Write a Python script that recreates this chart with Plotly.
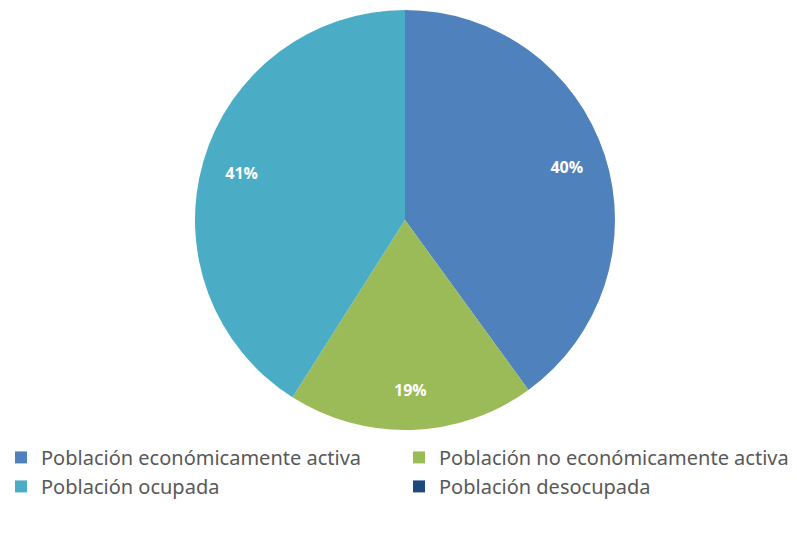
import plotly.graph_objects as go

labels = ["Población económicamente activa", "Población no económicamente activa",
          "Población ocupada", "Población desocupada"]
values = [40, 19, 41, 0]
colors = ["#4F81BD", "#9BBB59", "#4BACC6", "#1F497D"]

W, H = 797, 536
cx, cy, r = 405, 220, 210
dom = dict(x=[(cx - r) / W, (cx + r) / W], y=[(H - cy - r) / H, (H - cy + r) / H])

fig = go.Figure()
fig.add_trace(go.Pie(
    labels=labels, values=values, sort=False, direction="clockwise", rotation=0,
    marker=dict(colors=colors, line=dict(color="white", width=0)),
    textinfo="none", domain=dom, showlegend=True,
))
# label overlay: transparent ring so that the percentages sit near the rim
fig.add_trace(go.Pie(
    labels=labels, values=values, sort=False, direction="clockwise", rotation=0,
    hole=0.62,
    marker=dict(colors=["rgba(0,0,0,0)"] * len(values), line=dict(width=0)),
    texttemplate="<b>%{percent:.0%}</b>", textposition="inside",
    insidetextorientation="horizontal",
    textfont=dict(color="white", size=16, family="Open Sans"),
    domain=dom, showlegend=False, hoverinfo="skip",
))

fig.update_layout(
    width=W, height=H, margin=dict(l=0, r=0, t=0, b=0),
    paper_bgcolor="white", plot_bgcolor="white",
    legend=dict(orientation="h", x=0.0025, y=0.183, xanchor="left", yanchor="top",
                entrywidth=353, entrywidthmode="pixels",
                font=dict(family="Noto Sans", size=20, color="#595959"),
                traceorder="normal"),
)
fig.write_html("out.html")
